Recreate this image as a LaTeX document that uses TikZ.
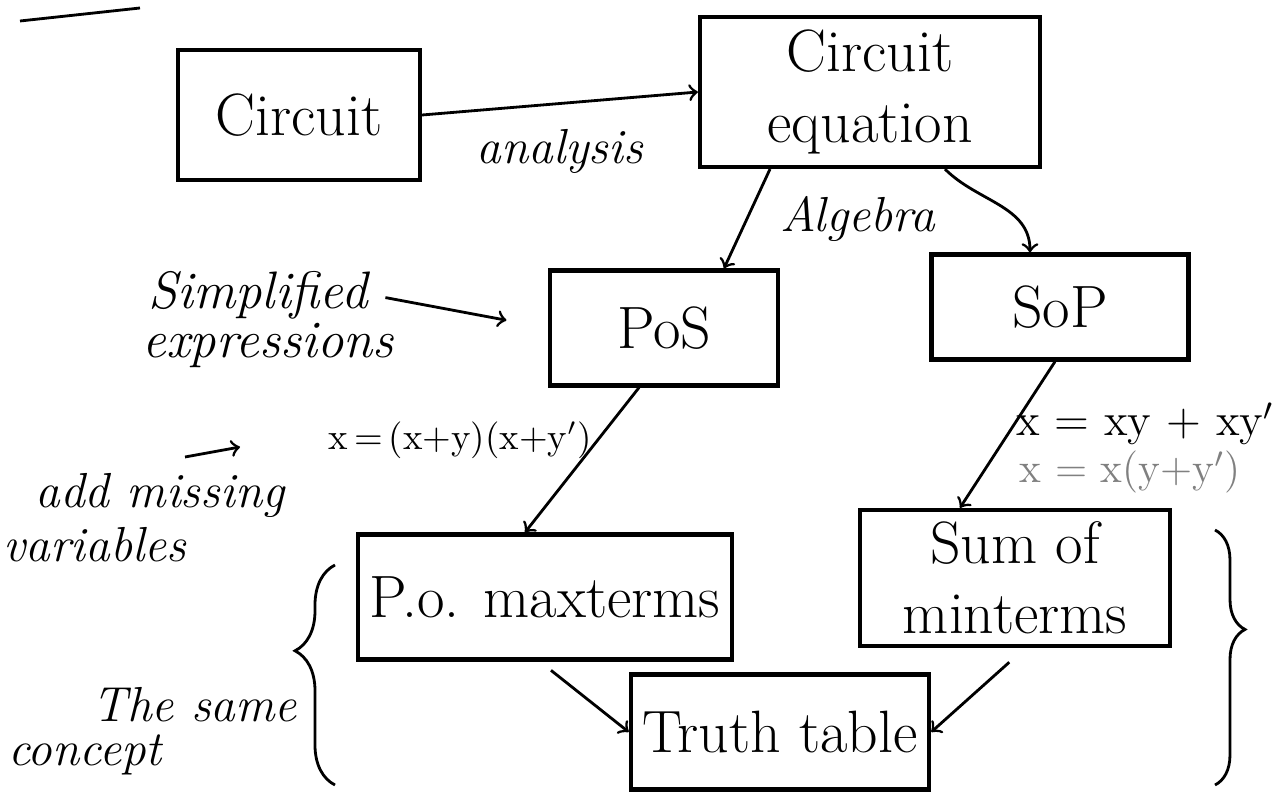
\documentclass[tikz,border=0pt]{standalone}
\usetikzlibrary{decorations.pathreplacing}
\tikzset{
  blk/.style={draw, very thick, font=\fontsize{17}{20}\selectfont, align=center},
  note/.style={font=\fontsize{14}{16}\selectfont\itshape, inner sep=1pt},
  eqn/.style={font=\fontsize{12}{14}\selectfont, inner sep=1pt},
}
\begin{document}
\begin{tikzpicture}
\useasboundingbox (0,0) rectangle (12.78,-7.94);

% Bloques
\node[blk, minimum width=2.42cm, minimum height=1.30cm] (circ) at (2.99,-1.15) {Circuit};
\node[blk, minimum width=3.40cm, minimum height=1.50cm] (ceq) at (8.70,-0.92) {Circuit\\equation};
\node[blk, minimum width=2.28cm, minimum height=1.15cm] (pos) at (6.64,-3.28) {PoS};
\node[blk, minimum width=2.57cm, minimum height=1.05cm] (sop) at (10.60,-3.07) {SoP};
\node[blk, minimum width=2.90cm, minimum height=1.25cm] (pom) at (5.45,-5.97) {P.o. maxterms};
\node[blk, minimum width=3.10cm, minimum height=1.25cm] (som) at (10.15,-5.78) {Sum of\\minterms};
\node[blk, minimum width=2.80cm, minimum height=1.15cm] (truth) at (7.80,-7.32) {Truth table};

% Notas
\node[note, font=\fontsize{15}{17}\selectfont\itshape] (simp) at (2.58,-2.95) {Simplified};
\node[note, font=\fontsize{15}{17}\selectfont\itshape] (expr) at (2.68,-3.45) {expressions};
\node[note] (addm) at (1.60,-4.95) {add missing};
\node[note] (vars) at (0.95,-5.45) {variables};
\node[note] (same) at (1.95,-7.05) {The same};
\node[note] (conc) at (0.85,-7.55) {concept};
\coordinate (addA) at (1.85,-4.57);
\coordinate (addB) at (2.40,-4.47);

% Flechas
\draw[->, thick] (circ.east) -- node[note, below=6pt] (ana) {analysis} (ceq.west);
\draw[->, thick] ([xshift=-1cm]ceq.south) -- node[note, right=8pt] (alg) {Algebra} ([xshift=0.6cm]pos.north);
\draw[->, thick] ([xshift=0.75cm]ceq.south) to[out=-45, in=90] ([xshift=-0.3cm]sop.north);
\draw[->, thick, shorten <=4pt, shorten >=12pt] (simp.east) -- (pos.west);
\draw[->, thick] ([xshift=-0.25cm]pos.south) -- ([xshift=-0.2cm]pom.north);
\draw[->, thick] ([xshift=-0.05cm]sop.south) -- ([xshift=-0.55cm]som.north);
\draw[->, thick, shorten <=4pt] ([xshift=-0.05cm]pom.south) -- (truth.west);
\draw[->, thick, shorten <=6pt] ([xshift=0.1cm]som.south) -- (truth.east);
\draw[->, thick] (addA) -- (addB);

% Igualdades
\node[eqn, font=\fontsize{10.5}{12}\selectfont] (eqa) at (4.60,-4.40) {x\,=\,(x+y)(x+y$'$)};
\node[eqn, font=\fontsize{13}{15}\selectfont] (eqb) at (11.45,-4.24) {x = xy + xy$'$};
\node[eqn, gray] (eqc) at (11.30,-4.72) {x = x(y+y$'$)};

% Llaves
\draw[thick, decorate, decoration={brace, amplitude=0.4cm, aspect=0.61}] (3.35,-7.85) -- (3.35,-5.65);
\draw[thick, decorate, decoration={brace, amplitude=0.3cm, aspect=0.39}] (12.15,-5.30) -- (12.15,-7.85);

% Trazo cortado arriba
\draw[thick] (0.20,-0.21) -- (1.40,-0.08);

\end{tikzpicture}
\end{document}
